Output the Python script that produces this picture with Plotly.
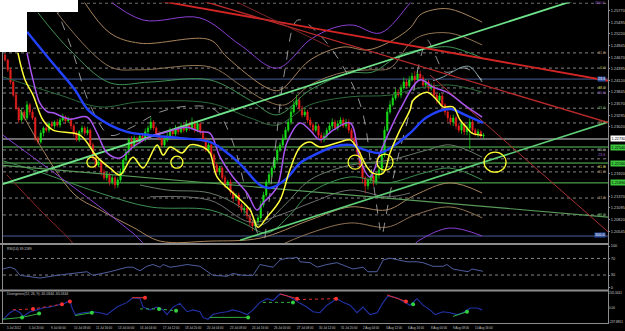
import plotly.graph_objects as go

W, H = 625, 331

# ---------------- price data (H4 bars) ----------------
first_open = 1.2472
closes = [
    1.2460, 1.2437, 1.2408, 1.2377, 1.2346, 1.2318, 1.2337, 1.2323, 1.2354, 1.2337,
    1.2323, 1.2275, 1.2266, 1.2287, 1.2299, 1.2294, 1.2309, 1.2304, 1.2313, 1.2306,
    1.2318, 1.2325, 1.2316, 1.2320, 1.2304, 1.2285, 1.2271, 1.2290, 1.2299, 1.2287,
    1.2294, 1.2259, 1.2228, 1.2211, 1.2218, 1.2195, 1.2181, 1.2190, 1.2171, 1.2181,
    1.2164, 1.2176, 1.2195, 1.2223, 1.2242, 1.2271, 1.2256, 1.2275, 1.2266, 1.2280,
    1.2271, 1.2290, 1.2299, 1.2313, 1.2299, 1.2285, 1.2275, 1.2259, 1.2271, 1.2280,
    1.2294, 1.2285, 1.2299, 1.2290, 1.2304, 1.2294, 1.2309, 1.2299, 1.2313, 1.2294,
    1.2309, 1.2290, 1.2271, 1.2247, 1.2259, 1.2235, 1.2211, 1.2195, 1.2204, 1.2181,
    1.2164, 1.2171, 1.2147, 1.2133, 1.2140, 1.2117, 1.2105, 1.2109, 1.2091, 1.2076,
    1.2067, 1.2076, 1.2086, 1.2117, 1.2140, 1.2171, 1.2188, 1.2204, 1.2223, 1.2247,
    1.2259, 1.2275, 1.2294, 1.2313, 1.2337, 1.2354, 1.2365, 1.2346, 1.2330, 1.2337,
    1.2318, 1.2306, 1.2294, 1.2304, 1.2282, 1.2271, 1.2280, 1.2294, 1.2304, 1.2313,
    1.2299, 1.2309, 1.2318, 1.2304, 1.2313, 1.2294, 1.2275, 1.2259, 1.2242, 1.2211,
    1.2181, 1.2162, 1.2176, 1.2185, 1.2171, 1.2188, 1.2200, 1.2235, 1.2294, 1.2337,
    1.2354, 1.2370, 1.2384, 1.2377, 1.2394, 1.2408, 1.2399, 1.2413, 1.2422, 1.2413,
    1.2427, 1.2418, 1.2401, 1.2408, 1.2394, 1.2399, 1.2377, 1.2365, 1.2375, 1.2354,
    1.2337, 1.2323, 1.2313, 1.2323, 1.2304, 1.2294, 1.2309, 1.2290, 1.2299, 1.2313,
    1.2294, 1.2285, 1.2290, 1.2280, 1.2282,
]
upper_wick_pips = [
    4, 3, 5, 3, 6, 4, 8, 5, 9, 4,
    6, 3, 5, 7, 4, 8, 5, 6, 4, 7,
    5, 8, 4, 6, 3, 5, 7, 4, 6, 5,
    8, 4, 5, 3, 7, 4, 6, 5, 4, 7,
    5, 6, 8, 4, 7, 5, 9, 6, 4, 7,
    5, 8, 6, 11, 5, 4, 7, 6, 5, 8,
    6, 4, 7, 5, 8, 6, 9, 5, 11, 4,
    7, 5, 4, 6, 5, 7, 4, 6, 5, 4,
    6, 5, 7, 4, 5, 6, 4, 7, 5, 4,
    6, 5, 7, 9, 8, 6, 7, 5, 8, 7,
    6, 9, 7, 8, 11, 9, 13, 7, 6, 8,
    5, 7, 6, 9, 5, 7, 8, 6, 7, 9,
    6, 8, 7, 6, 8, 7, 5, 4, 6, 5,
    7, 4, 6, 5, 8, 7, 11, 13, 9, 7,
    10, 8, 9, 7, 8, 11, 7, 9, 8, 12,
    9, 8, 6, 7, 5, 6, 8, 5, 7, 6,
    4, 5, 7, 8, 5, 6, 7, 4, 8, 9,
    6, 5, 7, 4, 5,
]
lower_wick_pips = [
    4, 5, 6, 4, 5, 7, 4, 6, 5, 8,
    5, 7, 6, 4, 8, 5, 6, 4, 7, 5,
    6, 4, 7, 5, 8, 6, 4, 5, 7, 6,
    5, 7, 6, 8, 5, 9, 6, 7, 8, 6,
    9, 7, 5, 6, 4, 7, 5, 6, 8, 5,
    6, 4, 7, 5, 6, 8, 5, 7, 6, 5,
    4, 6, 5, 7, 4, 6, 5, 7, 4, 6,
    5, 7, 6, 5, 8, 6, 7, 5, 8, 6,
    7, 8, 6, 9, 7, 8, 6, 9, 8, 10,
    12, 10, 8, 7, 6, 5, 7, 6, 5, 6,
    5, 6, 4, 5, 6, 4, 5, 7, 6, 5,
    7, 6, 8, 5, 7, 8, 6, 5, 6, 7,
    5, 6, 7, 5, 6, 8, 7, 6, 9, 10,
    12, 18, 9, 8, 10, 7, 9, 6, 5, 4,
    5, 4, 6, 5, 7, 4, 6, 5, 4, 6,
    5, 6, 7, 5, 8, 6, 7, 8, 6, 9,
    8, 10, 7, 9, 8, 6, 9, 7, 8, 50,
    7, 6, 8, 5, 6,
]

date_label_bars = [0, 8, 16.1, 24.2, 32.3, 40.4, 48.5, 56.7, 64.8, 72.9, 81.0,
                   89.1, 97.2, 105.3, 113.4, 121.5, 129.6, 137.7, 145.8, 154.0, 162.1, 170.2]
date_labels = ["5 Jul 2012", "5 Jul 20:00", "9 Jul 00:00", "10 Jul 08:00", "11 Jul 16:00",
               "13 Jul 00:00", "16 Jul 04:00", "17 Jul 12:00", "18 Jul 20:00", "20 Jul 04:00",
               "23 Jul 08:00", "24 Jul 16:00", "26 Jul 00:00", "27 Jul 08:00", "30 Jul 12:00",
               "31 Jul 20:00", "2 Aug 04:00", "3 Aug 12:00", "6 Aug 16:00", "8 Aug 00:00",
               "9 Aug 08:00", "10 Aug 16:00"]

price_ticks = [1.25770, 1.25495, 1.25220, 1.24945, 1.24670, 1.24395, 1.24120, 1.23845,
               1.23570, 1.23295, 1.23020, 1.21920, 1.21370, 1.21095, 1.20820, 1.20545]

# moving averages (bar index, price)
blue_x = [8.0, 16.4, 25.5, 30.2, 38.2, 44.4, 52.7, 63.6, 74.5, 81.8, 86.5, 92.7, 96.4,
          101.8, 107.3, 110.9, 119.3, 125.5, 130.9, 136.4, 141.8, 147.3, 153.5, 161.8, 167.3, 173.8]
blue_y = [1.2527, 1.2460, 1.2389, 1.2342, 1.2306, 1.2290, 1.2282, 1.2275, 1.2266, 1.2235, 1.2207,
          1.2164, 1.2157, 1.2176, 1.2216, 1.2230, 1.2254, 1.2259, 1.2247, 1.2240, 1.2259, 1.2287,
          1.2325, 1.2344, 1.2330, 1.2311]
yellow_x = [4.7, 7.3, 10.2, 13.8, 17.5, 27.3, 33.5, 38.2, 41.8, 46.5, 50.2, 55.3, 57.5, 60.0,
            64.4, 67.3, 72.0, 74.5, 77.1, 82.9, 89.1, 92.0, 95.3, 100.0, 103.6, 107.3, 110.9,
            114.5, 121.8, 125.5, 128.0, 131.6, 133.8, 137.5, 140.0, 143.6, 147.3, 148.4, 153.5,
            157.1, 159.3, 162.9, 165.5, 168.0, 169.8, 173.5]
yellow_y = [1.2477, 1.2413, 1.2377, 1.2318, 1.2294, 1.2282, 1.2230, 1.2204, 1.2188, 1.2230,
            1.2204, 1.2259, 1.2235, 1.2254, 1.2240, 1.2259, 1.2254, 1.2240, 1.2183, 1.2145,
            1.2105, 1.2064, 1.2088, 1.2128, 1.2200, 1.2254, 1.2266, 1.2254, 1.2266, 1.2271,
            1.2252, 1.2207, 1.2192, 1.2192, 1.2240, 1.2294, 1.2342, 1.2365, 1.2384, 1.2365,
            1.2349, 1.2349, 1.2318, 1.2299, 1.2287, 1.2282]
purple_x = [8.0, 10.2, 12.7, 15.6, 17.5, 23.6, 29.8, 33.5, 37.1, 41.8, 46.5, 52.7, 58.9, 66.2,
            70.9, 74.5, 78.2, 82.9, 88.0, 91.6, 93.8, 98.9, 102.5, 107.3, 110.9, 114.5, 119.3,
            125.5, 129.1, 132.7, 136.4, 140.0, 143.6, 150.9, 155.6, 160.7, 168.0, 173.5]
purple_y = [1.2477, 1.2413, 1.2358, 1.2337, 1.2335, 1.2320, 1.2325, 1.2287, 1.2240, 1.2228,
            1.2254, 1.2278, 1.2290, 1.2301, 1.2290, 1.2287, 1.2230, 1.2183, 1.2145, 1.2105,
            1.2121, 1.2159, 1.2264, 1.2311, 1.2294, 1.2271, 1.2294, 1.2311, 1.2223, 1.2183,
            1.2240, 1.2294, 1.2342, 1.2413, 1.2396, 1.2384, 1.2349, 1.2325]

# envelope / band lines
band_u1_x = [36.4, 50.2, 70.9, 85.5, 98.9, 110.9, 119.3, 126.5, 136.4, 147.3, 150.9]
band_u1_y = [1.2609, 1.2555, 1.2560, 1.2496, 1.2441, 1.2508, 1.2536, 1.2543, 1.2524, 1.2595, 1.2621]
band_u2_x = [28.4, 38.2, 49.1, 74.5, 80.7, 95.3, 100.0, 110.9, 122.9, 131.6, 138.9, 147.3, 150.9, 155.6, 161.8, 173.5]
band_u2_y = [1.2602, 1.2524, 1.2500, 1.2508, 1.2467, 1.2394, 1.2389, 1.2460, 1.2491, 1.2484,
             1.2500, 1.2536, 1.2567, 1.2579, 1.2581, 1.2550]
band_u3_x = [18.9, 38.2, 49.1, 74.5, 85.5, 94.5, 101.8, 110.9, 123.6, 132.7, 140.0, 147.3, 152.0, 161.8, 173.5]
band_u3_y = [1.2572, 1.2444, 1.2437, 1.2444, 1.2401, 1.2365, 1.2354, 1.2401, 1.2432, 1.2437,
             1.2441, 1.2500, 1.2519, 1.2524, 1.2496]
band_u4_x = [12.0, 23.6, 38.2, 52.7, 74.5, 89.1, 98.9, 110.9, 125.5, 133.8, 143.6, 155.6, 161.8, 173.5]
band_u4_y = [1.2572, 1.2484, 1.2406, 1.2408, 1.2413, 1.2365, 1.2330, 1.2389, 1.2429, 1.2432,
             1.2472, 1.2489, 1.2491, 1.2465]
band_u5_x = [-0.7, 20.0, 34.5, 49.1, 74.5, 89.1, 98.9, 110.9, 125.5, 140.0, 150.9, 161.8, 173.5]
band_u5_y = [1.2420, 1.2377, 1.2349, 1.2361, 1.2358, 1.2323, 1.2306, 1.2354, 1.2373, 1.2377,
             1.2394, 1.2401, 1.2384]
band_c_x = [155.6, 159.3, 166.5, 169.1, 173.5]
band_c_y = [1.2411, 1.2420, 1.2444, 1.2444, 1.2408]
band_l0_x = [49.1, 58.9, 74.5, 85.5, 92.7, 101.8, 110.9, 125.5, 140.0, 153.5, 161.8, 173.5]
band_l0_y = [1.2164, 1.2152, 1.2145, 1.2112, 1.2069, 1.2117, 1.2176, 1.2211, 1.2223, 1.2247, 1.2259, 1.2230]
band_l1_x = [-1.8, 10.2, 34.5, 52.7, 74.5, 86.5, 95.3, 103.6, 110.9, 125.5, 138.9, 152.0, 161.8, 173.5]
band_l1_y = [1.2223, 1.2200, 1.2145, 1.2112, 1.2105, 1.2074, 1.2050, 1.2093, 1.2145, 1.2183,
             1.2169, 1.2192, 1.2204, 1.2176]
band_l2_x = [52.7, 74.5, 89.1, 100.0, 110.9, 125.5, 138.9, 147.3]
band_l2_y = [1.2136, 1.2128, 1.2076, 1.2093, 1.2121, 1.2152, 1.2136, 1.2145]
band_l3_x = [5.5, 24.7, 34.5, 46.5, 56.4, 74.5, 92.7, 110.9, 125.5, 138.9, 149.1, 161.8, 173.5]
band_l3_y = [1.2342, 1.2145, 1.2105, 1.2064, 1.2031, 1.2031, 1.2038, 1.2081, 1.2112, 1.2105,
             1.2140, 1.2169, 1.2145]
band_l4_x = [96.4, 110.9, 125.5, 138.9, 149.1, 161.8, 173.5]
band_l4_y = [1.2010, 1.2050, 1.2074, 1.2064, 1.2093, 1.2112, 1.2086]
band_l5_x = [-1.8, 16.4, 34.5, 46.5, 54.5, 143.6, 150.9, 161.8, 173.5]
band_l5_y = [1.2287, 1.2200, 1.2112, 1.2050, 1.2010, 1.1998, 1.2034, 1.2062, 1.2043]
band_l6_x = [0.7, 12.7, 23.6, 27.3]
band_l6_y = [1.2188, 1.2105, 1.2034, 1.2005]
dash1_x = [18.2, 24.4, 30.9, 38.2, 45.5, 56.4, 67.3, 76.4, 82.5, 88.4, 92.0]
dash1_y = [1.2591, 1.2484, 1.2354, 1.2282, 1.2299, 1.2337, 1.2351, 1.2342, 1.2271, 1.2128, 1.2045]
dash2_x = [94.5, 98.2, 101.8, 106.5, 114.5, 123.6, 129.8, 133.5, 136.4]
dash2_y = [1.2038, 1.2247, 1.2437, 1.2555, 1.2519, 1.2437, 1.2342, 1.2188, 1.2057]
dash3_x = [137.5, 141.8, 147.3, 150.9, 153.5, 156.4, 160.0, 167.3, 173.5]
dash3_y = [1.2053, 1.2200, 1.2342, 1.2460, 1.2508, 1.2472, 1.2432, 1.2441, 1.2413]

# trend lines (bar index, price end points)
tl_green_up_x, tl_green_up_y = [-1.8, 207.3], [1.2164, 1.2602]
tl_green_low_x, tl_green_low_y = [85.5, 219.3], [1.2033, 1.2313]
tl_green_down_x, tl_green_down_y = [-1.8, 219.3], [1.2211, 1.2088]
tl_red1_x, tl_red1_y = [54.9, 219.3], [1.2602, 1.2411]
tl_red2_x, tl_red2_y = [70.9, 219.3], [1.2602, 1.2312]
tl_red3_x, tl_red3_y = [82.9, 118.2], [1.2602, 1.2491]
tl_red4_x, tl_red4_y = [154.5, 219.3], [1.2425, 1.2053]

# horizontal (fibonacci / price) levels
level_prices = [1.2595, 1.2477, 1.2441, 1.2415, 1.2394, 1.2382, 1.2346, 1.2311, 1.2273, 1.2254,
                1.2247, 1.2226, 1.2216, 1.2207, 1.2195, 1.2169, 1.2133, 1.2093, 1.2043]
fib_texts = ["100.0", "61.8", "0.0", "23.6", "38.2", "50.0", "23.6", "38.2", "50.0", "23.6",
             "61.8", "61.8", "13.8", "88.2", "100.0"]
fib_prices = [1.2595, 1.2477, 1.2441, 1.2415, 1.2394, 1.2382, 1.2346, 1.2311, 1.2247, 1.2235,
              1.2207, 1.2195, 1.2133, 1.2093, 1.2045]
box_prices = [1.2273, 1.2254, 1.2216, 1.2169]
box_texts = ["1.22730", "1.22540", "1.22160", "1.21690"]

circle_x = [31.6, 62.5, 127.3, 138.2, 178.2]
circle_y = [1.2218, 1.2218, 1.2218, 1.2218, 1.2218]

# RSI(14)
rsi_x = [-0.7, 1.8, 3.6, 5.5, 8.0, 12.7, 18.9, 24.7, 29.8, 32.0, 38.2, 44.4, 46.5, 49.1, 51.6,
         53.8, 56.4, 57.5, 60.0, 62.5, 66.2, 70.9, 73.5, 75.6, 80.7, 82.9, 86.5, 90.2, 92.7,
         95.3, 97.5, 100.0, 102.5, 104.7, 106.2, 107.3, 110.9, 113.5, 117.1, 120.7, 124.4,
         126.5, 130.2, 132.0, 135.3, 136.4, 137.5, 140.0, 143.6, 146.2, 149.8, 152.0, 155.6,
         159.3, 160.7, 162.9, 166.5, 168.4, 169.8, 172.7, 173.8]
rsi_y = [44.6, 48.9, 44.6, 29.3, 27.1, 22.8, 29.3, 33.7, 38.0, 29.3, 38.0, 48.9, 48.9, 40.2, 51.1,
         55.4, 48.9, 55.4, 48.9, 51.1, 55.4, 51.1, 40.2, 29.3, 27.1, 33.7, 29.3, 29.3, 55.4,
         51.1, 48.9, 66.3, 70.7, 70.7, 72.8, 62.0, 59.8, 48.9, 55.4, 59.8, 51.1,
         44.6, 48.9, 38.0, 38.0, 51.1, 66.3, 70.7, 66.3, 62.0, 62.0, 59.8, 51.1,
         51.1, 55.4, 44.6, 40.2, 38.0, 44.6, 40.2, 39.1]

# Divergence(12, 26, 9)
div_x = [-0.6, 1.8, 3.6, 5.5, 6.5, 9.1, 11.6, 13.8, 16.4, 19.3, 21.8, 23.6, 24.4, 25.5, 28.4,
         32.0, 34.5, 37.1, 40.7, 44.4, 46.5, 49.1, 50.2, 52.7, 55.3, 57.5, 58.9, 61.1, 63.6,
         66.2, 68.4, 70.9, 72.0, 73.8, 75.6, 78.2, 80.7, 82.9, 85.5, 88.0, 90.2, 92.7, 95.3,
         97.5, 100.0, 102.5, 104.7, 107.3, 109.8, 112.0, 114.5, 117.1, 120.7, 122.9, 125.5,
         128.0, 130.2, 132.7, 135.3, 137.5, 139.3, 142.5, 145.5, 147.3, 149.8, 152.0, 154.5,
         156.4, 159.3, 161.8, 164.4, 166.5, 169.1, 171.6, 173.5]
div_y = [-192, -83, -36, -83, -145, -67, -36, -5, 11, 42, 73, 120, -5, -114, -83,
         -67, -83, -114, 11, 89, 167, 151, 11, -36, 11, -36, -114, 11, 73,
         -67, -36, -67, -161, -192, -114, -83, -67, -36, -67, -114, -36, 89, 151,
         120, 229, 198, 151, 73, 11, -67, -83, 42, 151, 89, 42,
         -83, 11, -114, -83, 89, 198, 167, 89, 42, 151, 42, -36,
         -114, -67, -83, -114, -83, -5, -5, -36]
red_solid_segs = [[(46.2, 167), (50.9, 167)], [(100.0, 229), (106.2, 151)], [(138.9, 214), (145.8, 104)]]
red_dot_segs = [[(2.9, -36), (10.2, -20), (20.7, 58)], [(106.2, 136), (120.4, 151)]]
green_solid_segs = [[(-0.7, -192), (6.2, -161), (12.4, -98)], [(25.5, -130), (31.6, -83)],
                    [(74.5, -161), (88.4, -161)], [(162.9, -145), (168.0, -67)]]
green_dot_segs = [[(49.1, -20), (56.0, -20), (62.2, -52)], [(93.8, 89), (104.7, 89)]]
red_marks_x = [10.2, 20.7, 23.6, 50.9, 106.2, 120.4, 145.8]
red_marks_y = [-20, 58, 104, 167, 151, 151, 104]
green_marks_x = [6.2, 12.4, 31.6, 56.0, 62.2, 88.4, 104.7, 148.4, 168.0]
green_marks_y = [-161, -98, -83, -20, -52, -161, 89, 58, -67]

# ---------------- derived OHLC ----------------
n = len(closes)
bars = list(range(n))
opens = [first_open] + closes[:-1]
highs = [max(o, c) + u * 0.0001 for o, c, u in zip(opens, closes, upper_wick_pips)]
lows = [min(o, c) - d * 0.0001 for o, c, d in zip(opens, closes, lower_wick_pips)]

# ---------------- figure ----------------
def px_x(p):
    return p / W

def px_y(p):
    return 1 - p / H

fig = go.Figure()

def line(xs, ys, color, width, dash="solid", yaxis="y", shape="spline"):
    fig.add_trace(go.Scatter(x=xs, y=ys, mode="lines", xaxis="x", yaxis=yaxis,
                             line=dict(color=color, width=width, dash=dash, shape=shape),
                             hoverinfo="skip", showlegend=False))

TAN, TAN2 = "#a8845c", "#8e7352"
GRN, GRN2 = "#3f9052", "#2c6a3a"
PUR = "#8b3fd3"

# bands
line(band_u1_x, band_u1_y, PUR, 1)
line(band_u2_x, band_u2_y, TAN, 1)
line(band_u3_x, band_u3_y, TAN2, 1)
line(band_u4_x, band_u4_y, GRN, 1)
line(band_u5_x, band_u5_y, GRN2, 1)
line(band_c_x, band_c_y, "#a0c8d0", 0.8)
line(band_l0_x, band_l0_y, "#667a66", 1)
line(band_l1_x, band_l1_y, GRN, 1)
line(band_l2_x, band_l2_y, "#7a7a7a", 0.9)
line(band_l3_x, band_l3_y, TAN, 1)
line(band_l4_x, band_l4_y, TAN2, 1)
line(band_l5_x, band_l5_y, PUR, 1)
line(band_l6_x, band_l6_y, "#8a2424", 1)
line(dash1_x, dash1_y, "#b8b8b8", 0.8, dash="dash")
line(dash2_x, dash2_y, "#b8b8b8", 0.8, dash="dash")
line(dash3_x, dash3_y, "#b8b8b8", 0.8, dash="dash")

# trend lines
line(tl_green_up_x, tl_green_up_y, "#6fe38a", 1.8, shape="linear")
line(tl_green_low_x, tl_green_low_y, "#5fcf78", 1.6, shape="linear")
line(tl_green_down_x, tl_green_down_y, "#5a9a5a", 1.2, shape="linear")
line(tl_red1_x, tl_red1_y, "#d42525", 1.8, shape="linear")
line(tl_red2_x, tl_red2_y, "#b82a2a", 1.3, shape="linear")
line(tl_red3_x, tl_red3_y, "#8a2a2a", 0.9, shape="linear")
line(tl_red4_x, tl_red4_y, "#a83030", 1.0, shape="linear")

# candles
fig.add_trace(go.Candlestick(
    x=bars, open=opens, high=highs, low=lows, close=closes, xaxis="x", yaxis="y",
    increasing=dict(line=dict(color="#19e019", width=0.7), fillcolor="#19e019"),
    decreasing=dict(line=dict(color="#e82020", width=0.7), fillcolor="#e82020"),
    whiskerwidth=0, hoverinfo="skip", showlegend=False))

# moving averages
line(purple_x, purple_y, "#a855f0", 1.5)
line(blue_x, blue_y, "#2342ff", 2.4)
line(yellow_x, yellow_y, "#ffff3a", 1.5)

# RSI
line(rsi_x, rsi_y, "#4e5e9e", 1, yaxis="y2", shape="linear")

# Divergence
line(div_x, div_y, "#2232a8", 1.1, yaxis="y3", shape="linear")
for seg in red_solid_segs:
    line([p[0] for p in seg], [p[1] for p in seg], "#e03030", 1, yaxis="y3", shape="linear")
for seg in red_dot_segs:
    line([p[0] for p in seg], [p[1] for p in seg], "#e03030", 1, dash="dot", yaxis="y3", shape="linear")
for seg in green_solid_segs:
    line([p[0] for p in seg], [p[1] for p in seg], "#30b040", 1, yaxis="y3", shape="linear")
for seg in green_dot_segs:
    line([p[0] for p in seg], [p[1] for p in seg], "#30b040", 1, dash="dot", yaxis="y3", shape="linear")
fig.add_trace(go.Scatter(x=red_marks_x, y=red_marks_y, mode="markers", xaxis="x", yaxis="y3",
                         marker=dict(color="#ff3030", size=4, symbol="circle"),
                         hoverinfo="skip", showlegend=False))
fig.add_trace(go.Scatter(x=green_marks_x, y=green_marks_y, mode="markers", xaxis="x", yaxis="y3",
                         marker=dict(color="#30d040", size=4, symbol="circle"),
                         hoverinfo="skip", showlegend=False))

# ---------------- shapes ----------------
shapes = []
level_styles = ["dot", "dot", "dot", "solid", "dot", "dot", "dot", "dot", "solid", "solid",
                "dot", "dot", "solid", "dot", "dot", "solid", "dot", "dot", "solid"]
level_colors = ["#a8a8a8", "#a8a8a8", "#a8a8a8", "#4a5f9a", "#a8a8a8", "#a8a8a8", "#a8a8a8",
                "#a8a8a8", "#d8d8d8", "#5cc45c", "#a8a8a8", "#a8a8a8", "#5cc45c", "#a8a8a8",
                "#a8a8a8", "#5cc45c", "#a8a8a8", "#a8a8a8", "#4a5f9a"]
for p, dsh, col in zip(level_prices, level_styles, level_colors):
    shapes.append(dict(type="line", xref="paper", yref="y", x0=px_x(3), x1=px_x(608), y0=p, y1=p,
                       line=dict(color=col, width=1 if dsh == "solid" else 0.8, dash=dsh),
                       layer="below"))
for lv in [70, 30]:
    shapes.append(dict(type="line", xref="paper", yref="y2", x0=px_x(3), x1=px_x(608), y0=lv, y1=lv,
                       line=dict(color="#a8a8a8", width=0.8, dash="dot"), layer="below"))

circle_rx = [5, 6, 7, 8, 11]
circle_ry = [5, 6, 7, 8, 10]
for cx, cy, rx, ry in zip(circle_x, circle_y, circle_rx, circle_ry):
    shapes.append(dict(type="circle", xref="x", yref="y", xsizemode="pixel", ysizemode="pixel",
                       xanchor=cx, yanchor=cy, x0=-rx, x1=rx, y0=-ry, y1=ry,
                       line=dict(color="#ffff30", width=1.3)))

# panel frames
GR = "#8c8c8c"
for yy in [244, 290.5]:
    shapes.append(dict(type="line", xref="paper", yref="paper", x0=px_x(0), x1=px_x(608.5),
                       y0=px_y(yy), y1=px_y(yy), line=dict(color=GR, width=2)))
shapes.append(dict(type="line", xref="paper", yref="paper", x0=px_x(0), x1=px_x(608.5),
                   y0=px_y(323.5), y1=px_y(323.5), line=dict(color=GR, width=1)))
shapes.append(dict(type="line", xref="paper", yref="paper", x0=px_x(608.5), x1=px_x(608.5),
                   y0=px_y(324), y1=px_y(0), line=dict(color=GR, width=1)))
shapes.append(dict(type="line", xref="paper", yref="paper", x0=px_x(2.5), x1=px_x(2.5),
                   y0=px_y(324), y1=px_y(52), line=dict(color=GR, width=1)))
# white corner
shapes.append(dict(type="rect", xref="paper", yref="paper", x0=0, x1=px_x(78), y0=px_y(12), y1=1,
                   fillcolor="white", line=dict(width=0), layer="above"))
shapes.append(dict(type="rect", xref="paper", yref="paper", x0=0, x1=px_x(27), y0=px_y(52), y1=1,
                   fillcolor="white", line=dict(width=0), layer="above"))

# ---------------- annotations ----------------
ann = []
FONT = "Liberation Sans"
fib_colors = ["#a060d0", "#b09060", "#c8c860", "#ffffff", "#c8c840", "#a060d0", "#60b060",
              "#b09060", "#c0c0c0", "#a060d0", "#c8c840", "#b09060", "#b09060", "#60b060", "#ffffff"]
fib_bg = [None, None, None, "#3050a0", None, None, None, None, None, None, None, None, None, None, "#3050a0"]
for t, p, c, bg in zip(fib_texts, fib_prices, fib_colors, fib_bg):
    a = dict(x=px_x(606), y=p, xref="paper", yref="y", text=t, showarrow=False, xanchor="right",
             yanchor="middle", font=dict(family=FONT, size=3.8, color=c), borderpad=0)
    if bg:
        a["bgcolor"] = bg
    ann.append(a)
box_bg = ["#ffffff", "#3cc83c", "#3cc83c", "#3cc83c"]
for t, p, bg in zip(box_texts, box_prices, box_bg):
    ann.append(dict(x=px_x(609.5), y=p, xref="paper", yref="y", text=t, showarrow=False,
                    xanchor="left", yanchor="middle", bgcolor=bg, borderpad=0.5,
                    font=dict(family=FONT, size=3.8, color="#000000")))
for b, t in zip(date_label_bars, date_labels):
    ann.append(dict(x=b, y=px_y(327.5), xref="x", yref="paper", text=t, showarrow=False,
                    xanchor="left", yanchor="middle", font=dict(family=FONT, size=3.0, color="#c8c8c8")))
ann.append(dict(x=px_x(5), y=px_y(248.5), xref="paper", yref="paper", text="RSI(14) 39.1189",
                showarrow=False, xanchor="left", yanchor="middle",
                font=dict(family=FONT, size=3.4, color="#c8c8c8")))
ann.append(dict(x=px_x(5), y=px_y(294), xref="paper", yref="paper",
                text="Divergence(12, 26, 9) -65.0344 -65.0344", showarrow=False,
                xanchor="left", yanchor="middle", font=dict(family=FONT, size=3.4, color="#c8c8c8")))

axis_common = dict(showgrid=False, zeroline=False, showline=False, ticks="outside", ticklen=1,
                   tickcolor="#909090", tickfont=dict(family=FONT, size=3.9, color="#c8c8c8"),
                   side="right", anchor="x", fixedrange=True, automargin=False)
axis_div = dict(axis_common)
axis_div.update(ticks="", tickfont=dict(family=FONT, size=3.1, color="#c8c8c8"))

fig.update_layout(
    width=W, height=H, margin=dict(l=0, r=0, t=0, b=0),
    paper_bgcolor="#000000", plot_bgcolor="#000000", showlegend=False,
    font=dict(family=FONT, color="#c8c8c8"),
    xaxis=dict(domain=[px_x(3), px_x(608)], range=[-0.727, 219.27], showgrid=False, zeroline=False,
               showline=False, showticklabels=False, ticks="", anchor="y3", fixedrange=True,
               rangeslider=dict(visible=False)),
    yaxis=dict(domain=[px_y(243), px_y(2.5)], range=[1.20265, 1.25965], tickvals=price_ticks,
               ticktext=["%.5f" % v for v in price_ticks], **axis_common),
    yaxis2=dict(domain=[px_y(287.5), px_y(246)], range=[0, 100], tickvals=[100, 70, 30, 0],
                ticktext=["100", "70", "30", "0"], **axis_common),
    yaxis3=dict(domain=[px_y(322), px_y(293)], range=[-237.88, 245.34], tickvals=[245.34, 0, -237.88],
                ticktext=["245.3441", "0.00", "-237.8851"], **axis_div),
    shapes=shapes, annotations=ann,
)

fig.write_html("out.html")
